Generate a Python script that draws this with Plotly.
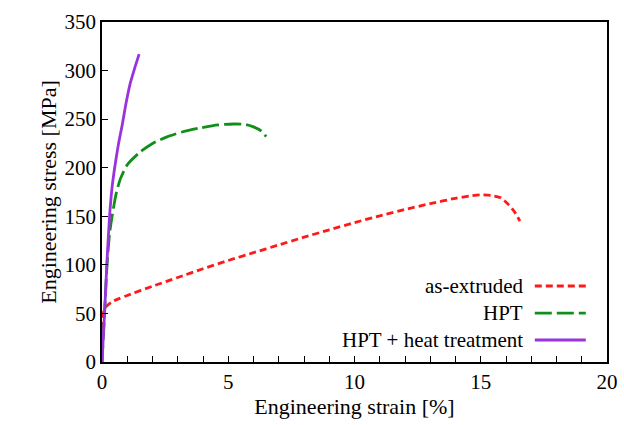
import plotly.graph_objects as go

# Data
ext_strain = [0.0, 0.05, 0.1, 0.2, 0.4, 0.7, 1.0, 2.0, 3.0, 4.0, 5.0, 6.0, 7.0, 8.0, 9.0, 10.0, 11.0, 12.0, 13.0, 14.0, 14.6, 15.0, 15.4, 15.8, 16.1, 16.35, 16.55]
ext_stress = [0.0, 50.0, 54.0, 58.0, 62.0, 65.5, 68.5, 78.0, 87.0, 96.0, 104.5, 112.5, 120.5, 128.5, 136.0, 143.5, 150.5, 157.0, 163.0, 168.5, 171.0, 172.0, 171.5, 169.0, 162.0, 154.0, 145.0]

hpt_strain = [0.0, 0.1, 0.2, 0.3, 0.4, 0.55, 0.72, 1.0, 1.5, 2.0, 2.6, 3.2, 3.9, 4.6, 5.2, 5.7, 6.0, 6.3, 6.5]
hpt_stress = [0.0, 50.0, 100.0, 132.0, 150.0, 172.0, 188.0, 203.0, 216.0, 225.0, 232.0, 237.0, 241.0, 244.0, 245.0, 244.5, 242.0, 238.0, 232.0]

ht_strain = [0.0, 0.1, 0.2, 0.3, 0.4, 0.52, 0.65, 0.8, 0.95, 1.12, 1.3, 1.47]
ht_stress = [0.0, 50.0, 105.0, 150.0, 180.0, 203.0, 224.0, 244.0, 266.0, 287.0, 303.0, 317.0]

labels = ["as-extruded", "HPT", "HPT + heat treatment"]
colors = ["#ff1a1a", "#109018", "#9933dd"]
dashes = ["7px,4px", "17px,5px", "solid"]

x_ticks = list(range(0, 21))
x_ticktext = [str(v) if v % 5 == 0 else "" for v in x_ticks]
y_ticks = [0, 50, 100, 150, 200, 250, 300, 350]

# legend layout (fractions of the plot area)
leg_y = [0.2235, 0.144, 0.0647]
leg_text_x = 0.838
leg_line_x = [0.857, 0.958]

FONT = "Liberation Serif"

fig = go.Figure()
series = [(ext_strain, ext_stress), (hpt_strain, hpt_stress), (ht_strain, ht_stress)]
for (xs, ys), name, c, d in zip(series, labels, colors, dashes):
    fig.add_trace(go.Scatter(x=xs, y=ys, mode="lines", name=name,
                             line=dict(color=c, width=2.8, dash=d, shape="spline", smoothing=0.6),
                             showlegend=False))

# Legend: text right-aligned, sample line to the right (as in the reference)
for name, c, d, yy in zip(labels, colors, dashes, leg_y):
    fig.add_trace(go.Scatter(x=leg_line_x, y=[yy, yy], xaxis="x2", yaxis="y2", mode="lines",
                             line=dict(color=c, width=2.8, dash=d), showlegend=False, hoverinfo="skip"))
    fig.add_annotation(x=leg_text_x, y=yy, xref="x2", yref="y2", text=name,
                       showarrow=False, xanchor="right", yanchor="middle",
                       font=dict(family=FONT, size=21, color="black"))

fig.update_layout(
    template="none",
    width=624, height=425, margin=dict(l=102, r=17, t=22, b=63),
    plot_bgcolor="white", paper_bgcolor="white",
    font=dict(family=FONT, color="black", size=21),
    xaxis=dict(range=[0, 20], tickvals=x_ticks, ticktext=x_ticktext,
               showgrid=False, zeroline=False, showline=True, linecolor="black", linewidth=1.5,
               mirror=True, ticks="inside", ticklen=6, tickcolor="black", tickwidth=1.2,
               tickfont=dict(family=FONT, size=21, color="black"),
               title=dict(text="Engineering strain [%]", font=dict(family=FONT, size=22, color="black"), standoff=0)),
    yaxis=dict(range=[0, 350], tickvals=y_ticks,
               showgrid=False, zeroline=False, showline=True, linecolor="black", linewidth=1.5,
               mirror=True, ticks="inside", ticklen=6, tickcolor="black", tickwidth=1.2,
               tickfont=dict(family=FONT, size=21, color="black"),
               title=dict(text="Engineering stress [MPa]", font=dict(family=FONT, size=22, color="black"), standoff=2)),
    xaxis2=dict(overlaying="x", range=[0, 1], visible=False),
    yaxis2=dict(overlaying="y", range=[0, 1], visible=False),
)

fig.write_html("out.html")
